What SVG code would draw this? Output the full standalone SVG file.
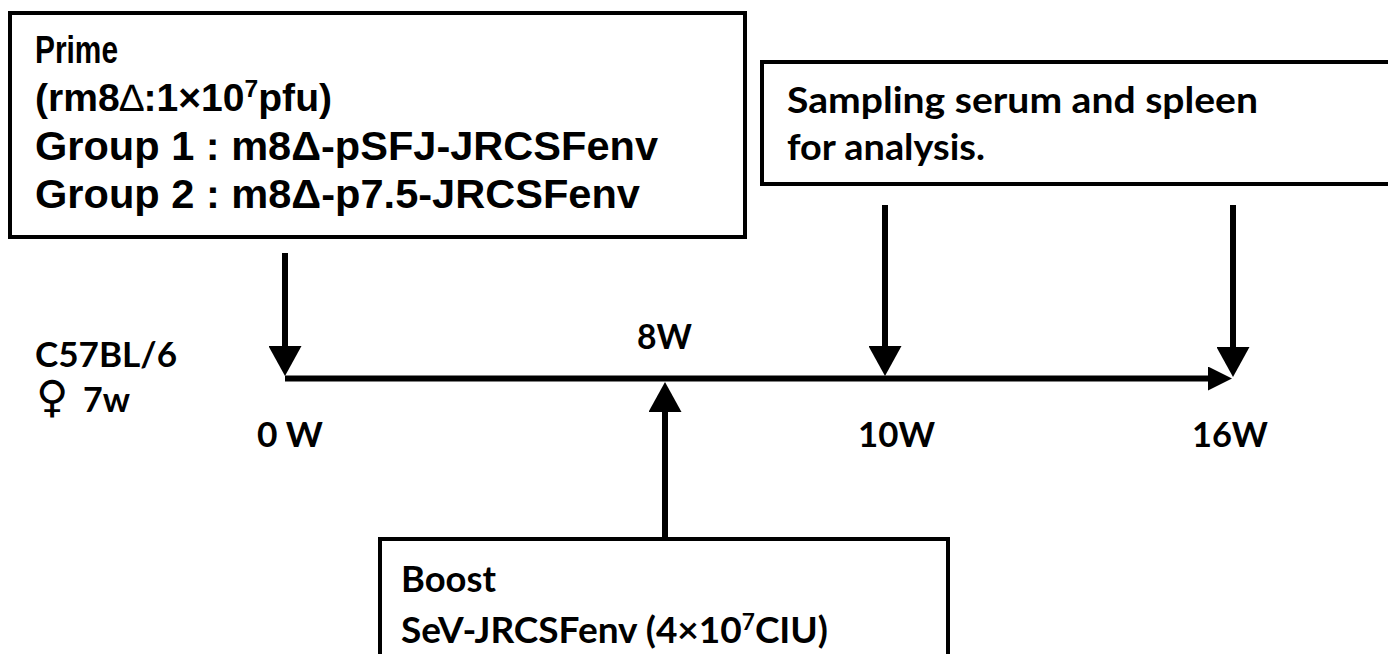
<svg xmlns="http://www.w3.org/2000/svg" width="1388" height="654" viewBox="0 0 1388 654">
<style>
.box{fill:#fff;stroke:#000;stroke-width:4}
.ar{font-family:"Liberation Sans",Arial,sans-serif;font-weight:bold;fill:#000}
.ca{font-family:Lato,"Open Sans","DejaVu Sans",sans-serif;font-weight:bold;fill:#000}
.con{stroke:#000;stroke-width:6;fill:none}
</style>
<defs>
<marker id="head" markerUnits="userSpaceOnUse" viewBox="0 0 30 33" markerWidth="30" markerHeight="33" refX="20" refY="16.5" orient="auto">
<path d="M0,0 L30,16.5 L0,33 Z" fill="#000"/>
</marker>
<marker id="headS" markerUnits="userSpaceOnUse" viewBox="0 0 24 24" markerWidth="24" markerHeight="24" refX="14" refY="12" orient="auto">
<path d="M0,0 L24,12 L0,24 Z" fill="#000"/>
</marker>
</defs>
<rect width="1388" height="654" fill="#fff"/>
<g id="prime">
<rect class="box" x="10" y="13" width="735" height="224"/>
<text class="ar" x="35" y="63" font-size="38" textLength="83" lengthAdjust="spacingAndGlyphs">Prime</text>
<text class="ar" x="35" y="111" font-size="38" textLength="297" lengthAdjust="spacingAndGlyphs">(rm8<tspan font-weight="normal">∆</tspan>:1×10<tspan font-size="24" dy="-14">7</tspan><tspan dy="14">pfu)</tspan></text>
<text class="ar" x="35" y="160" font-size="41" textLength="623" lengthAdjust="spacingAndGlyphs">Group 1 : m8Δ-pSFJ-JRCSFenv</text>
<text class="ar" x="35" y="208" font-size="41" textLength="605" lengthAdjust="spacingAndGlyphs">Group 2 : m8Δ-p7.5-JRCSFenv</text>
</g>
<g id="sampling">
<rect class="box" x="762" y="62" width="640" height="122"/>
<text class="ca" x="787" y="113" font-size="36" textLength="471" lengthAdjust="spacingAndGlyphs">Sampling serum and spleen</text>
<text class="ca" x="787" y="160" font-size="36" textLength="198" lengthAdjust="spacingAndGlyphs">for analysis.</text>
</g>
<g id="boost">
<rect class="box" x="380" y="539" width="568" height="130"/>
<text class="ca" x="401" y="592" font-size="36" textLength="95" lengthAdjust="spacingAndGlyphs">Boost</text>
<text class="ca" x="401" y="643" font-size="36" textLength="427" lengthAdjust="spacingAndGlyphs">SeV-JRCSFenv (4×10<tspan font-size="22" dy="-13">7</tspan><tspan dy="13">CIU)</tspan></text>
</g>
<g id="mouse">
<text class="ca" x="35" y="367" font-size="34" textLength="142" lengthAdjust="spacingAndGlyphs">C57BL/6</text>
<text class="ca" x="36" y="412" font-size="34"><tspan font-size="44">♀</tspan> <tspan x="83">7w</tspan></text>
</g>
<g id="labels">
<text class="ca" x="637" y="349" font-size="35" textLength="55" lengthAdjust="spacingAndGlyphs">8W</text>
<text class="ca" x="257" y="447" font-size="35" textLength="66" lengthAdjust="spacingAndGlyphs">0 W</text>
<text class="ca" x="858" y="447" font-size="35" textLength="77" lengthAdjust="spacingAndGlyphs">10W</text>
<text class="ca" x="1192" y="447" font-size="35" textLength="76" lengthAdjust="spacingAndGlyphs">16W</text>
</g>
<g id="connectors">
<line class="con" x1="285" y1="378.5" x2="1222" y2="378.5" stroke-width="7" marker-end="url(#headS)"/>
<line class="con" x1="285" y1="253" x2="285" y2="366" marker-end="url(#head)"/>
<line class="con" x1="885" y1="205" x2="885" y2="366" marker-end="url(#head)"/>
<line class="con" x1="1233" y1="205" x2="1233" y2="367" marker-end="url(#head)"/>
<line class="con" x1="665" y1="539" x2="665" y2="392" marker-end="url(#head)"/>
</g>
</svg>
